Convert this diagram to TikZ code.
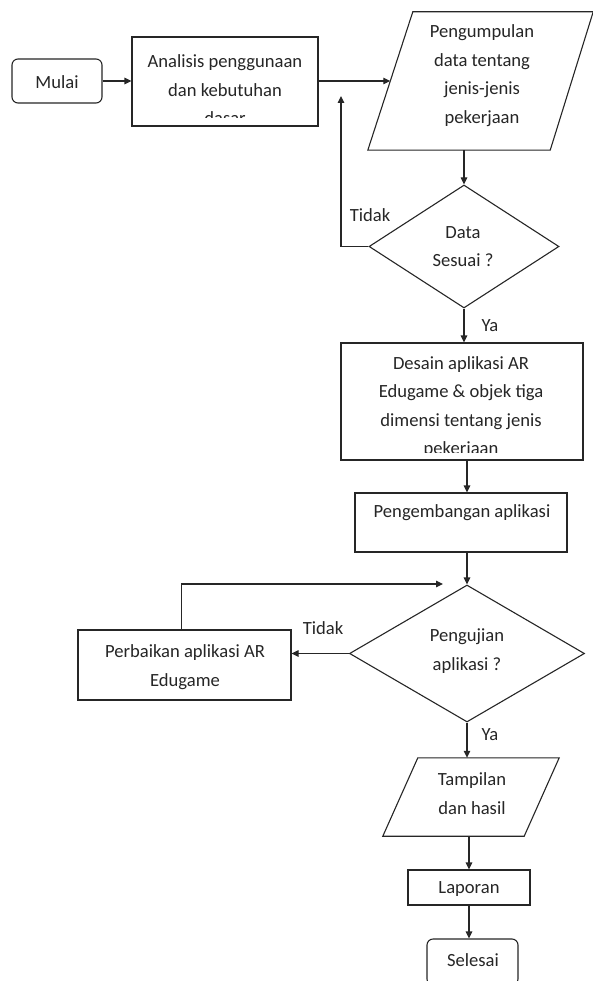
\documentclass[tikz,border=0pt]{standalone}
\usepackage{fontspec}
\setmainfont{Carlito}
\usetikzlibrary{shapes.geometric,arrows.meta}
\begin{document}
\begin{tikzpicture}[x=1pt,y=-1pt,
  shp/.style={draw=black!85, line width=1.1pt, inner sep=0pt, fill=white},
  boxr/.style={shp, rectangle},
  term/.style={shp, rectangle, rounded corners=6pt},
  dec/.style={shp, diamond, inner sep=1pt},
  iobox/.style={rectangle, inner sep=0pt},
  iodraw/.style={draw=black!85, line width=1.1pt, fill=white},
  txt/.style={inner sep=0pt, align=center, text=black!85,
    font=\fontsize{18.6}{28.5}\selectfont},
  arr/.style={draw=black!85, line width=1.1pt, -{Triangle[length=7pt,width=6.5pt]}}
]
\useasboundingbox (0,0) rectangle (593,981);

% shapes
\node[term, minimum width=90pt, minimum height=44pt] (mulai) at (57,81) {};
\node[boxr, minimum width=186pt, minimum height=89pt] (analisis) at (225,81.5) {};
\node[iobox, minimum width=225pt, minimum height=138pt] (pengumpulan) at (480.5,81) {};
\draw[iodraw] ([xshift=45pt]pengumpulan.north west) -- (pengumpulan.north east)
  -- ([xshift=-43pt]pengumpulan.south east) -- (pengumpulan.south west) -- cycle;
\node[dec, minimum width=190pt, minimum height=123pt] (d1) at (464,246.5) {};
\node[boxr, minimum width=242pt, minimum height=117pt] (desain) at (462,401.5) {};
\node[boxr, minimum width=212pt, minimum height=59pt] (pengembangan) at (461,522.5) {};
\node[dec, minimum width=235pt, minimum height=137pt] (d2) at (467,653.5) {};
\node[boxr, minimum width=213pt, minimum height=70pt] (perbaikan) at (184.5,665) {};
\node[iobox, minimum width=176pt, minimum height=78pt] (tampilan) at (471,797) {};
\draw[iodraw] ([xshift=35pt]tampilan.north west) -- (tampilan.north east)
  -- ([xshift=-35pt]tampilan.south east) -- (tampilan.south west) -- cycle;
\node[boxr, minimum width=122pt, minimum height=35pt] (laporan) at (469,887.5) {};
\node[term, minimum width=91pt, minimum height=46pt] (selesai) at (472.5,962) {};

% texts
\node[txt] (tmulai) at (57,82) {Mulai};
\begin{scope}
  \clip (133,38) rectangle (317,118);
  \node[txt] (tanalisis) at (225,90) {Analisis penggunaan\\dan kebutuhan\\dasar};
\end{scope}
\node[txt] (tpengumpulan) at (482,75.5) {Pengumpulan\\data tentang\\jenis-jenis\\pekerjaan};
\node[txt] (td1) at (463,246.5) {Data\\Sesuai ?};
\begin{scope}
  \clip (342,344) rectangle (582,452);
  \node[txt] (tdesain) at (461,407) {Desain aplikasi AR\\Edugame \& objek tiga\\dimensi tentang jenis\\pekerjaan};
\end{scope}
\node[txt] (tpengembangan) at (462,513) {Pengembangan aplikasi};
\node[txt] (td2) at (467,651) {Pengujian\\aplikasi ?};
\node[txt] (tperbaikan) at (185,667) {Perbaikan aplikasi AR\\Edugame};
\node[txt] (ttampilan) at (472,793.5) {Tampilan\\dan hasil};
\node[txt] (tlaporan) at (469,889) {Laporan};
\node[txt] (tselesai) at (473,960) {Selesai};

\node[txt] (tidak1) at (370,215) {Tidak};
\node[txt] (ya1) at (490,326) {Ya};
\node[txt] (tidak2) at (323,628) {Tidak};
\node[txt] (ya2) at (490,735) {Ya};

% connector end points
\coordinate (pleft) at ([xshift=22.5pt]pengumpulan.west);
\coordinate (fb1) at (341,96);
\coordinate (fb2) at (443,584);

% connectors
\draw[arr] (mulai.east) -- (mulai.east -| analisis.west);
\draw[arr] (analisis.east |- pleft) -- (pleft);
\draw[arr] (d1.north |- pengumpulan.south) -- (d1.north);
\draw[arr] (d1.west) -| (fb1);
\draw[arr] (d1.south) -- (d1.south |- desain.north);
\draw[arr] (d2.north |- desain.south) -- (d2.north |- pengembangan.north);
\draw[arr] (d2.north |- pengembangan.south) -- (d2.north);
\draw[arr] (d2.west) -- (d2.west -| perbaikan.east);
\draw[arr] ([xshift=-3pt]perbaikan.north) |- (fb2);
\draw[arr] (d2.south) -- (d2.south |- tampilan.north);
\draw[arr] (laporan.north |- tampilan.south) -- (laporan.north);
\draw[arr] (laporan.south) -- (laporan.south |- selesai.north);
\end{tikzpicture}
\end{document}
